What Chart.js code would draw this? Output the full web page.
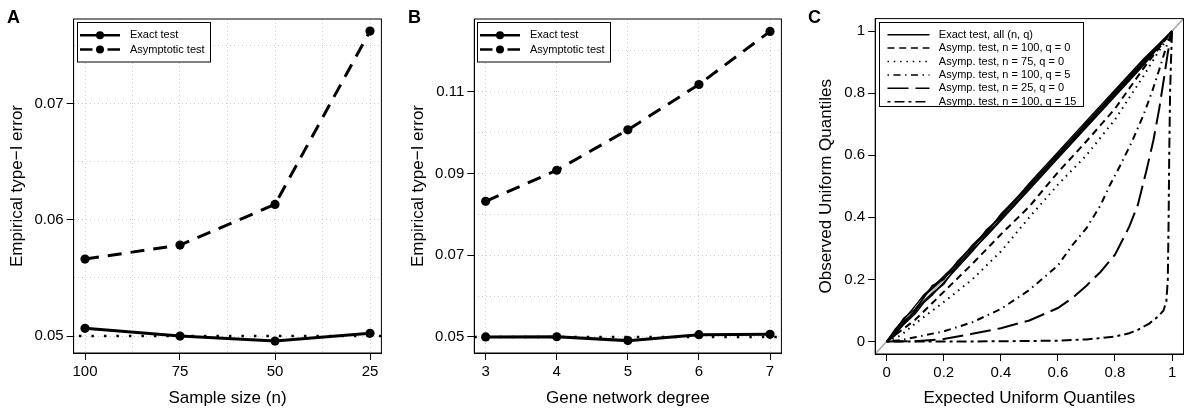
<!DOCTYPE html>
<html><head><meta charset="utf-8">
<script src="https://cdn.jsdelivr.net/npm/chart.js@4.4.0/dist/chart.umd.min.js"></script>
<style>
html,body{margin:0;padding:0;background:#fff;width:1184px;height:412px;overflow:hidden;position:relative;}
canvas{position:absolute;top:0;}
.lab{position:absolute;top:8px;font:bold 18px/18px 'Liberation Sans',Arial,sans-serif;color:#000;}
</style></head><body>
<canvas id="cA" width="390" height="412" style="left:0px"></canvas>
<canvas id="cB" width="396" height="412" style="left:390px"></canvas>
<canvas id="cC" width="398" height="412" style="left:786px"></canvas>
<div class="lab" style="left:7px">A</div>
<div class="lab" style="left:408px">B</div>
<div class="lab" style="left:808px">C</div>
<script>
// ---------- data ----------
const sampleSizes = [100, 75, 50, 25];
const exactA = [0.05066, 0.0500, 0.04957, 0.05023];
const asympA = [0.05662, 0.05782, 0.06132, 0.07623];
const degrees = [3, 4, 5, 6, 7];
const exactB = [0.0500, 0.05005, 0.0491, 0.05056, 0.05064];
const asympB = [0.0832, 0.0908, 0.1007, 0.1118, 0.1248];
const nominalAlpha = 0.05;

const ticksAx = [100, 75, 50, 25];
const ticksAy = [0.05, 0.06, 0.07];
const gridAx = [100, 87.5, 75, 62.5, 50, 37.5, 25];
const gridAy = [0.05, 0.055, 0.06, 0.065, 0.07, 0.075];
const ticksBx = [3, 4, 5, 6, 7];
const ticksBy = [0.05, 0.07, 0.09, 0.11];
const gridBx = [3, 4, 5, 6, 7];
const gridBy = [0.05, 0.06, 0.07, 0.08, 0.09, 0.10, 0.11, 0.12];
const ticksC = [0, 0.2, 0.4, 0.6, 0.8, 1];

// QQ panel (C)
const qExactX = [0, 0.03, 0.06, 0.1, 0.13, 0.16, 0.2, 0.25, 0.3, 0.35, 0.4, 0.5, 0.6, 0.7, 0.8, 0.9, 1];
const exactQ1 = [0, 0.04, 0.07, 0.115, 0.15, 0.175, 0.21, 0.255, 0.31, 0.355, 0.405, 0.50, 0.605, 0.70, 0.805, 0.905, 1];
const exactQ2 = [0, 0.025, 0.055, 0.09, 0.125, 0.15, 0.19, 0.24, 0.29, 0.345, 0.395, 0.495, 0.595, 0.695, 0.795, 0.895, 1];
const exactQ3 = [0, 0.035, 0.075, 0.105, 0.14, 0.18, 0.20, 0.26, 0.305, 0.35, 0.41, 0.505, 0.60, 0.705, 0.80, 0.90, 1];
const exactQ4 = [0, 0.02, 0.06, 0.10, 0.13, 0.155, 0.185, 0.25, 0.295, 0.34, 0.39, 0.49, 0.59, 0.69, 0.79, 0.89, 1];
const exactQ5 = [0, 0.03, 0.065, 0.095, 0.145, 0.17, 0.205, 0.245, 0.30, 0.36, 0.40, 0.51, 0.61, 0.71, 0.81, 0.91, 1];

const n100q0X = [0, 0.1, 0.2, 0.3, 0.4, 0.5, 0.6, 0.7, 0.8, 0.9, 1];
const n100q0Y = [0, 0.07, 0.16, 0.25, 0.345, 0.435, 0.545, 0.645, 0.75, 0.88, 1];
const n75q0X = [0, 0.05, 0.1, 0.2, 0.3, 0.4, 0.5, 0.6, 0.7, 0.8, 0.9, 0.95, 1];
const n75q0Y = [0, 0.02, 0.058, 0.127, 0.2, 0.29, 0.4, 0.505, 0.6, 0.715, 0.855, 0.93, 1];
const n100q5X = [0, 0.05, 0.1, 0.2, 0.3, 0.4, 0.5, 0.6, 0.65, 0.7, 0.75, 0.78, 0.82, 0.86, 0.9, 0.93, 0.96, 0.98, 1];
const n100q5Y = [0, 0.005, 0.014, 0.033, 0.062, 0.105, 0.166, 0.245, 0.31, 0.365, 0.44, 0.5, 0.57, 0.645, 0.73, 0.805, 0.89, 0.95, 1];
const n25q0X = [0, 0.1, 0.2, 0.3, 0.4, 0.5, 0.55, 0.6, 0.65, 0.7, 0.75, 0.8, 0.85, 0.88, 0.91, 0.935, 0.955, 0.972, 0.985, 1];
const n25q0Y = [0, 0.001, 0.008, 0.025, 0.043, 0.068, 0.088, 0.108, 0.14, 0.18, 0.225, 0.28, 0.37, 0.44, 0.55, 0.65, 0.75, 0.85, 0.93, 1];
const n100q15X = [0, 0.2, 0.4, 0.6, 0.7, 0.8, 0.85, 0.88, 0.92, 0.95, 0.97, 0.98, 0.985, 0.988, 0.99, 0.993, 0.996, 1];
const n100q15Y = [0, 0, 0.001, 0.003, 0.007, 0.016, 0.027, 0.038, 0.058, 0.08, 0.1, 0.13, 0.2, 0.4, 0.6, 0.8, 0.9, 1];

// axis ranges (R style 4% expansion)
const rangeAx = [22, 103], rangeAy = [0.04854, 0.07727];
const rangeBx = [2.84, 7.16], rangeBy = [0.04607, 0.12783];
const rangeC = [-0.04, 1.04];

// ---------- helpers ----------
Chart.defaults.font.family = "'Liberation Sans', Arial, sans-serif";
Chart.defaults.color = '#000';
Chart.defaults.animation = false;

const pts = (xs, ys) => xs.map((x, i) => ({x, y: ys[i]}));
const setTicks = vals => s => { s.ticks = vals.map(v => ({value: v})); };
const fixedAxis = (size, isX) => s => {
  if (isX) s.height = size; else s.width = size;
  s.paddingLeft = s.paddingRight = s.paddingTop = s.paddingBottom = 0;
};
function mainAxis(pos, range, reverse, ticks, title, size, titlePad) {
  return {type: 'linear', position: pos, min: range[0], max: range[1], reverse,
    afterBuildTicks: setTicks(ticks),
    afterFit: fixedAxis(size, pos === 'bottom'),
    ticks: {autoSkip: false, maxRotation: 0, minRotation: 0, padding: 3, color: '#000', font: {size: 15}, callback: v => String(v)},
    grid: {drawOnChartArea: false, drawTicks: true, tickLength: 7, color: '#000', lineWidth: 1},
    border: {display: true, color: '#000', width: 1},
    title: {display: true, text: title, color: '#000', font: {size: 17},
      padding: pos === 'bottom' ? {top: 0, bottom: titlePad} : {top: titlePad, bottom: 0}}
  };
}
function gridAxis(pos, range, reverse, vals) {
  return {type: 'linear', position: pos, min: range[0], max: range[1], reverse,
    afterBuildTicks: setTicks(vals),
    afterFit: fixedAxis(0, pos === 'bottom'),
    ticks: {display: false},
    grid: {drawOnChartArea: true, drawTicks: false, color: '#cfcfcf', lineWidth: 1},
    border: {display: false, dash: [1, 3]}};
}

const boxPlugin = {
  id: 'plotBox',
  afterDatasetsDraw(chart) {
    const ca = chart.chartArea, ctx = chart.ctx;
    ctx.save(); ctx.strokeStyle = '#000'; ctx.lineWidth = 1; ctx.setLineDash([]);
    ctx.strokeRect(ca.left, ca.top, ca.right - ca.left, ca.bottom - ca.top);
    ctx.restore();
  }
};
const legendPlugin = {
  id: 'boxLegend',
  afterDraw(chart, args, o) {
    if (!o || !o.w) return;
    const ctx = chart.ctx, ca = chart.chartArea;
    const L = Math.round(ca.left + o.dx) + 0.5, T = Math.round(ca.top + o.dy) + 0.5;
    ctx.save();
    ctx.fillStyle = '#fff'; ctx.fillRect(L, T, o.w, o.h);
    ctx.strokeStyle = '#000'; ctx.lineWidth = 1; ctx.setLineDash([]); ctx.strokeRect(L, T, o.w, o.h);
    const items = chart.data.datasets.filter(d => d.inLegend);
    items.forEach((d, k) => {
      const y = T + o.row0 + k * o.rowH;
      ctx.strokeStyle = '#000'; ctx.fillStyle = '#000';
      ctx.lineWidth = o.lw || d.borderWidth;
      ctx.setLineDash(d.legendDash || d.borderDash || []);
      ctx.beginPath(); ctx.moveTo(L + o.sx0, y); ctx.lineTo(L + o.sx1, y); ctx.stroke();
      if (d.pointRadius > 0) {
        ctx.setLineDash([]); ctx.beginPath();
        ctx.arc(L + (o.sx0 + o.sx1) / 2, y, 4, 0, 2 * Math.PI); ctx.fill();
      }
      ctx.font = "11px 'Liberation Sans', Arial, sans-serif";
      ctx.textBaseline = 'middle'; ctx.textAlign = 'left';
      ctx.fillText(d.label, L + o.tx, y);
    });
    ctx.restore();
  }
};

function lineDS(label, data, dash, width, radius, inLegend, extra) {
  return Object.assign({label, data, showLine: true, borderColor: '#000', backgroundColor: '#000',
    borderWidth: width, borderDash: dash, pointRadius: radius, pointBorderWidth: 0,
    pointBackgroundColor: '#000', inLegend, tension: 0}, extra || {});
}

function errorPanel(id, xs, exact, asymp, rx, ry, reverse, tx, ty, gx, gy, xTitle, yW, rightPad, yTitlePad) {
  const alphaLine = [{x: rx[0], y: nominalAlpha}, {x: rx[1], y: nominalAlpha}];
  return new Chart(document.getElementById(id), {
    type: 'scatter',
    data: {datasets: [
      lineDS('Exact test', pts(xs, exact), [], 3, 4.6, true, {legendDash: []}),
      lineDS('Asymptotic test', pts(xs, asymp), [14, 9], 3, 4.6, true, {legendDash: [12.5, 15]}),
      lineDS('nominal', alphaLine, [2.5, 10], 2.5, 0, false)
    ]},
    options: {
      responsive: false, devicePixelRatio: 1, events: [],
      layout: {padding: {left: 0, right: rightPad, top: 19, bottom: 0}},
      scales: {
        x: mainAxis('bottom', rx, reverse, tx, xTitle, 59, 3.8),
        y: mainAxis('left', ry, false, ty, 'Empirical type\u2212I error', yW, yTitlePad),
        xg: gridAxis('bottom', rx, reverse, gx),
        yg: gridAxis('left', ry, false, gy)
      },
      plugins: {legend: {display: false}, tooltip: {enabled: false},
        boxLegend: {dx: 3, dy: 3, w: 133, h: 39.5, row0: 12.7, rowH: 14.3, sx0: 2.5, sx1: 42.5, tx: 52.5, lw: 2.5}}
    },
    plugins: [boxPlugin, legendPlugin]
  });
}

errorPanel('cA', sampleSizes, exactA, asympA, rangeAx, rangeAy, true, ticksAx, ticksAy, gridAx, gridAy,
  'Sample size (n)', 73.6, 8.6, 6.8);
errorPanel('cB', degrees, exactB, asympB, rangeBx, rangeBy, false, ticksBx, ticksBy, gridBx, gridBy,
  'Gene network degree', 84.3, 3, 18.1);

// Panel C
const diag = [{x: rangeC[0], y: rangeC[0]}, {x: rangeC[1], y: rangeC[1]}];
new Chart(document.getElementById('cC'), {
  type: 'scatter',
  data: {datasets: [
    lineDS('Exact test, all (n, q)', pts(qExactX, exactQ1), [], 1.5, 0, true),
    lineDS('', pts(qExactX, exactQ2), [], 1.5, 0, false),
    lineDS('', pts(qExactX, exactQ3), [], 1.5, 0, false),
    lineDS('', pts(qExactX, exactQ4), [], 1.5, 0, false),
    lineDS('', pts(qExactX, exactQ5), [], 1.5, 0, false),
    lineDS('Asymp. test, n = 100, q = 0', pts(n100q0X, n100q0Y), [7, 4.7], 2, 0, true),
    lineDS('Asymp. test, n = 75, q = 0', pts(n75q0X, n75q0Y), [1.5, 4.8], 2, 0, true),
    lineDS('Asymp. test, n = 100, q = 5', pts(n100q5X, n100q5Y), [1.5, 4.5, 7, 4.5], 2, 0, true),
    lineDS('Asymp. test, n = 25, q = 0', pts(n25q0X, n25q0Y), [21, 7], 2, 0, true),
    lineDS('Asymp. test, n = 100, q = 15', pts(n100q15X, n100q15Y), [3, 4, 10, 4], 2, 0, true),
    lineDS('', diag, [], 1.5, 0, false, {borderColor: '#aaaaaa'})
  ]},
  options: {
    responsive: false, devicePixelRatio: 1, events: [],
    layout: {padding: {left: 0, right: 0.5, top: 18.6, bottom: 0}},
    scales: {
      x: mainAxis('bottom', rangeC, false, ticksC, 'Expected Uniform Quantiles', 58, 3.8),
      y: mainAxis('left', rangeC, false, ticksC, 'Observed Uniform Quantiles', 89.2, 30.5)
    },
    plugins: {legend: {display: false}, tooltip: {enabled: false},
      boxLegend: {dx: 3.8, dy: 3.7, w: 204, h: 84, row0: 12.2, rowH: 13.4, sx0: 8, sx1: 50, tx: 59.3, lw: 1.5}}
  },
  plugins: [boxPlugin, legendPlugin]
});
</script>
</body></html>
